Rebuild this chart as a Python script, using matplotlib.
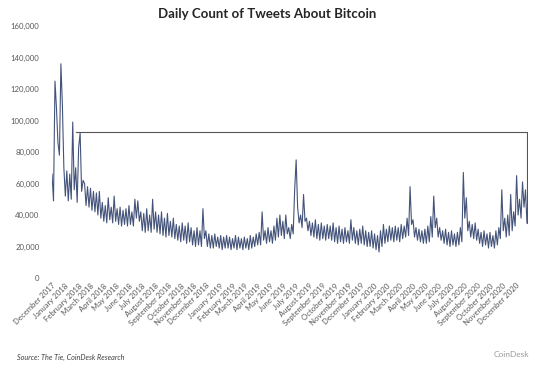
import pandas as pd
import matplotlib.pyplot as plt
from matplotlib.ticker import FuncFormatter

plt.rcParams['font.family'] = ['Lato', 'DejaVu Sans']

# daily tweet counts (thousands), two readings per week, Dec 2017 -> Dec 2020
tweets_k = [
    66, 49, 125, 108, 86, 78, 136, 110, 70, 52, 68, 49, 66, 50, 99, 56, 70, 48, 83, 92,
    55, 62, 60, 46, 58, 45, 57, 43, 55, 42, 54, 40, 55, 38, 48, 36, 46, 35, 51, 37,
    45, 35, 52, 36, 44, 34, 45, 33, 43, 34, 44, 33, 46, 34, 42, 33, 50, 38, 49, 36,
    42, 30, 41, 29, 44, 30, 40, 29, 50, 31, 42, 29, 40, 28, 42, 27, 38, 26, 41, 27,
    36, 26, 38, 25, 34, 24, 33, 23, 35, 24, 33, 22, 35, 23, 32, 21, 30, 20, 32, 21,
    30, 20, 44, 25, 30, 20, 28, 19, 27, 19, 28, 20, 26, 19, 27, 18, 26, 19, 27, 19,
    26, 18, 25, 19, 27, 18, 26, 19, 25, 18, 26, 19, 25, 18, 27, 19, 26, 20, 28, 21,
    29, 21, 42, 24, 30, 22, 32, 23, 30, 22, 33, 24, 38, 26, 40, 27, 36, 25, 40, 28,
    32, 25, 34, 28, 56, 75, 45, 35, 40, 32, 53, 36, 38, 30, 36, 27, 35, 26, 37, 25,
    34, 24, 35, 25, 33, 24, 34, 25, 33, 24, 35, 23, 32, 22, 33, 23, 31, 22, 32, 23,
    30, 22, 37, 24, 32, 22, 30, 21, 31, 22, 33, 21, 30, 20, 29, 20, 30, 19, 28, 18,
    27, 16.5, 30, 20, 34, 22, 31, 23, 33, 24, 32, 23, 33, 24, 32, 23, 34, 25, 33, 26,
    38, 27, 58, 34, 37, 26, 32, 24, 31, 23, 30, 22, 31, 22, 33, 23, 39, 26, 52, 32,
    38, 26, 32, 24, 30, 22, 31, 21, 29, 20, 30, 21, 28, 20, 29, 21, 32, 23, 67, 38,
    51, 30, 36, 26, 34, 25, 35, 24, 31, 22, 29, 20, 30, 21, 28, 19, 29, 20, 27, 19,
    30, 21, 32, 25, 56, 30, 38, 26, 40, 27, 53, 30, 42, 33, 65, 40, 50, 38, 61, 45,
    56, 35,
]
dates = pd.date_range('2017-12-01', periods=len(tweets_k), freq='84h')
tweets = [v * 1000 for v in tweets_k]

# outline drawn on the original chart
box_start = pd.Timestamp('2018-01-26')
box_level = 93000

month_ticks = pd.date_range('2017-12-01', '2020-12-01', freq='MS')
month_labels = [d.strftime('%B %Y') for d in month_ticks]

fig = plt.figure(figsize=(5.43, 3.67), dpi=100)
ax = fig.add_axes([0.0958, 0.2425, 0.8766, 0.6866])

ax.plot(dates, tweets, color='#44537A', linewidth=0.8)
ax.plot([box_start, dates[-1], dates[-1]], [box_level, box_level, tweets[-1]],
        color='#555555', linewidth=0.8)

ax.set_xlim(pd.Timestamp('2017-12-01'), pd.Timestamp('2020-12-31'))
ax.set_ylim(0, 160000)
ax.set_yticks(range(0, 160001, 20000))
ax.yaxis.set_major_formatter(FuncFormatter(lambda v, p: f'{int(v):,}'))
ax.set_xticks(month_ticks)
ax.set_xticklabels(month_labels, rotation=45, ha='right', rotation_mode='anchor')

for s in ax.spines.values():
    s.set_visible(False)
ax.tick_params(axis='both', length=0, labelsize=5.6, labelcolor='#595959')
ax.tick_params(axis='y', pad=9)
ax.tick_params(axis='x', pad=3)

fig.text(0.492, 0.962, 'Daily Count of Tweets About Bitcoin', ha='center', va='center',
         fontsize=9.5, fontweight='bold', color='#262626')
fig.text(0.031, 0.027, 'Source: The Tie, CoinDesk Research', ha='left', va='center',
         fontsize=5.2, style='italic', color='#404040')
fig.text(0.975, 0.035, 'CoinDesk', ha='right', va='center', fontsize=6,
         color='#9a9a9a')

fig.savefig('out.png', dpi=100)
